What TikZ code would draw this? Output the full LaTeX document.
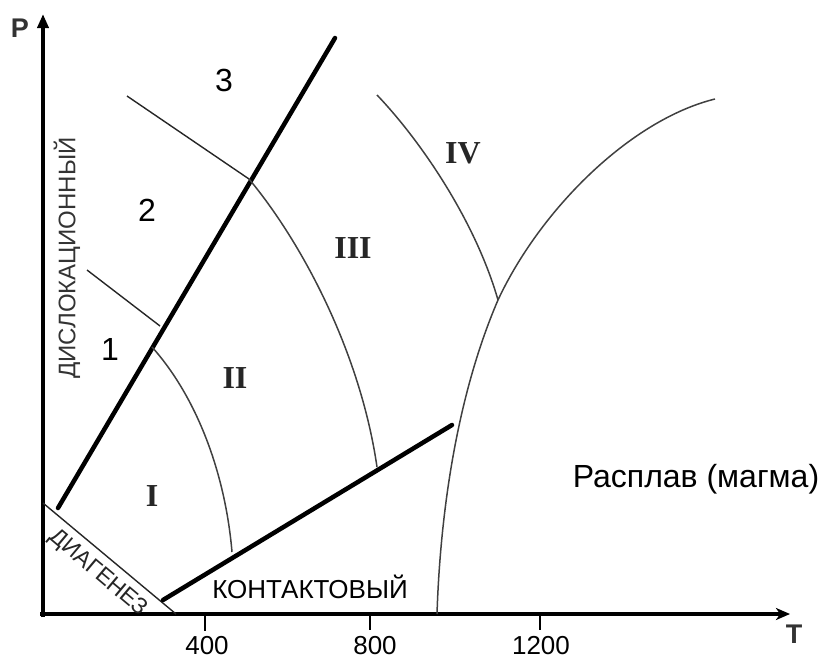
\documentclass[tikz,border=0pt]{standalone}
\usepackage{fontspec}
\setmainfont{Liberation Sans}
\newfontfamily\romfont{Liberation Serif}
\newfontfamily\boldsans{Liberation Sans Bold}
\usetikzlibrary{arrows.meta}
\tikzset{
  axisline/.style={line width=4.5pt},
  thickline/.style={line width=4.5pt, line cap=round},
  thinline/.style={line width=1.4pt, black!85},
  curveline/.style={line width=1.5pt, black!75},
  tickline/.style={line width=1.5pt},
  numlbl/.style={font=\fontsize{32}{36}\selectfont, inner sep=0pt},
  romlbl/.style={font=\romfont\bfseries\fontsize{32}{36}\selectfont, inner sep=0pt, text=black!85},
  ticklbl/.style={font=\fontsize{26}{30}\selectfont, inner sep=0pt},
  axlbl/.style={font=\boldsans\fontsize{27}{30}\selectfont, inner sep=0pt, text=black!80},
  zonelbl/.style={font=\fontsize{24}{28}\selectfont, inner sep=0pt},
}
\begin{document}
\begin{tikzpicture}[x=1pt,y=-1pt]
\useasboundingbox (0,0) rectangle (830,659);
% axes
\coordinate (O) at (43,614);
\coordinate (Ptop) at (43,14);
\coordinate (Tend) at (790,614);
\draw[axisline,-{Triangle[length=14pt,width=11pt]}] (43,617) -- (Ptop);
\draw[axisline,-{Stealth[length=14pt,width=12pt,inset=4pt]}] (40,614) -- (Tend);
\node[axlbl] (P) at (20,28) {P};
\node[axlbl] (T) at (794,634) {T};
% ticks
\coordinate (t400) at (205,616);
\coordinate (t400b) at (205,631);
\coordinate (t800) at (370,616);
\coordinate (t800b) at (370,630);
\coordinate (t1200) at (540,616);
\coordinate (t1200b) at (540,630);
\draw[tickline] (t400) -- (t400b);
\draw[tickline] (t800) -- (t800b);
\draw[tickline] (t1200) -- (t1200b);
\node[ticklbl] (l400) at (207,646) {400};
\node[ticklbl] (l800) at (375,646) {800};
\node[ticklbl] (l1200) at (541,646) {1200};
% key points
\coordinate (D1) at (43,503);
\coordinate (D2) at (176,614);
\coordinate (A1) at (58,508);
\coordinate (A2) at (335,38);
\coordinate (C1) at (163,600);
\coordinate (C2) at (452,425);
\coordinate (b1s) at (87,270);
\coordinate (b1e) at (160,326);
\coordinate (b2s) at (127,96);
\coordinate (b2e) at (249,179);
\coordinate (k1s) at (152,347);
\coordinate (k1e) at (232,552);
\coordinate (k2s) at (249,179);
\coordinate (k2e) at (377,467);
\coordinate (k3s) at (377,95);
\coordinate (X) at (498,300);
\coordinate (M0) at (437,614);
\coordinate (Mtop) at (715,99);
% diagenesis boundary
\draw[thinline] (D1) -- (D2);
% thick boundaries
\draw[thickline] (A1) -- (A2);
\draw[thickline] (C1) -- (C2);
% thin straight boundaries
\draw[thinline] (b1s) -- (b1e);
\draw[thinline] (b2s) -- (b2e);
% curves
\draw[curveline] (k1s) .. controls (195,395) and (225,470) .. (k1e);
\draw[curveline] (k2s) .. controls (300,240) and (360,350) .. (k2e);
\draw[curveline] (k3s) .. controls (420,140) and (475,220) .. (X);
\draw[curveline] (M0) .. controls (440,520) and (455,400) .. (X);
\draw[curveline] (X) .. controls (540,210) and (630,120) .. (Mtop);
% labels
\node[numlbl] (n1) at (110,349) {1};
\node[numlbl] (n2) at (147,210) {2};
\node[numlbl] (n3) at (224,80) {3};
\node[romlbl] (r1) at (152,496) {I};
\node[romlbl] (r2) at (235,378) {II};
\node[romlbl] (r3) at (353,248) {III};
\node[romlbl] (r4) at (463,153) {IV};
\node[zonelbl, rotate=90, text=black!80] (disl) at (67,258) {ДИСЛОКАЦИОННЫЙ};
\node[zonelbl, rotate=-40, text=black!85, font=\fontsize{23}{26}\selectfont] (diag) at (98,573) {ДИАГЕНЕЗ};
\node[zonelbl, font=\fontsize{26}{30}\selectfont] (kont) at (310,587) {КОНТАКТОВЫЙ};
\node[numlbl] (melt) at (696,479) {Расплав (магма)};
\end{tikzpicture}
\end{document}
